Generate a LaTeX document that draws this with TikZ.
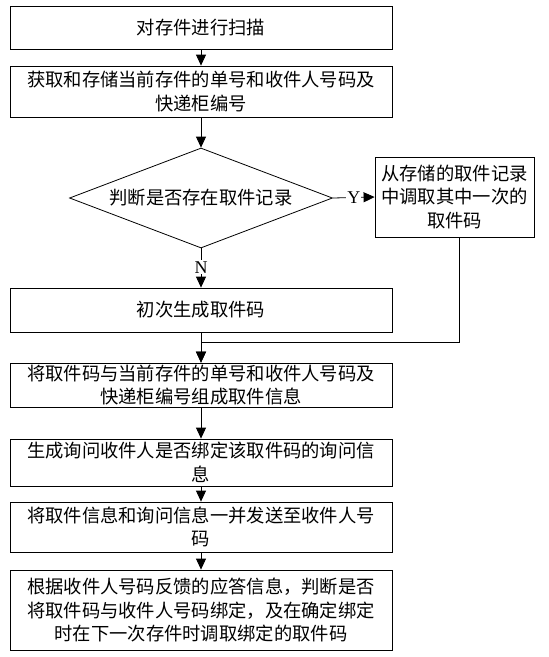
\documentclass[tikz,border=0pt]{standalone}
\usepackage{fontspec}
\setmainfont{Noto Sans CJK SC}
\newfontfamily\lat{Liberation Serif}
\usetikzlibrary{shapes.geometric,arrows.meta}
\begin{document}
\begin{tikzpicture}[x=1pt,y=-1pt,
  every node/.style={font=\fontsize{18.3pt}{23.5pt}\selectfont, inner sep=0pt},
  box/.style={draw, line width=0.8pt, minimum width=382pt, align=center},
  rbox/.style={draw, line width=0.8pt, minimum width=159pt, minimum height=80pt, align=center},
  dec/.style={draw, line width=0.8pt, diamond, aspect=2.63, minimum width=263pt, minimum height=100pt},
  conn/.style={line width=0.8pt, -{Triangle[width=10pt,length=11pt]}},
  lbl/.style={fill=white, font=\lat\fontsize{18pt}{20pt}\selectfont, inner sep=1pt}]
\useasboundingbox (0,0) rectangle (549,657);
\fill[white] (0,0) rectangle (549,657);
\node[box, minimum height=43pt] (b1) at (201,27.5) {对存件进行扫描};
\node[box, minimum height=51pt] (b2) at (201,91.5) {获取和存储当前存件的单号和收件人号码及\\快递柜编号};
\node[dec] (d) at (201,198) {判断是否存在取件记录};
\node[rbox] (rb) at (454.5,197) {从存储的取件记录\\中调取其中一次的\\取件码};
\node[box, minimum height=44pt] (b3) at (201,310) {初次生成取件码};
\node[box, minimum height=44pt] (b4) at (201,385) {将取件码与当前存件的单号和收件人号码及\\快递柜编号组成取件信息};
\node[box, minimum height=47pt] (b5) at (201,462.5) {生成询问收件人是否绑定该取件码的询问信\\息};
\node[box, minimum height=50pt] (b6) at (201,527) {将取件信息和询问信息一并发送至收件人号\\码};
\node[box, minimum height=80pt] (b7) at (201,610) {根据收件人号码反馈的应答信息，判断是否\\将取件码与收件人号码绑定，及在确定绑定\\时在下一次存件时调取绑定的取件码};
\coordinate (m) at (459,342);
\draw[conn] (b1) -- (b2);
\draw[conn] (b2) -- (d);
\draw[conn] (d.east) -- node[lbl] {Y} (rb.west);
\draw[conn] (d.south) -- node[lbl, pos=0.48] {N} (b3.north);
\draw[conn] (b3) -- (b4);
\draw[conn] (rb.south -| m) -- (m) -- (m -| b4.north) -- (b4.north);
\draw[conn] (b4) -- (b5);
\draw[conn] (b5) -- (b6);
\draw[conn] (b6) -- (b7);
\end{tikzpicture}
\end{document}
